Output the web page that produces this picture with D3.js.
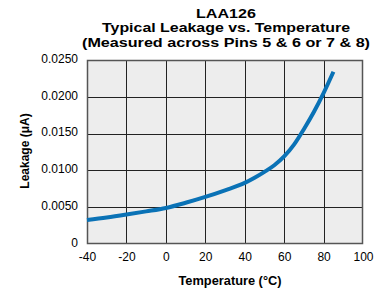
<!DOCTYPE html>
<html>
<head>
<meta charset="utf-8">
<script src="https://cdn.jsdelivr.net/npm/d3@7"></script>
<style>
  body { margin: 0; background: #fff; }
  svg text { font-family: "Liberation Sans", Arial, sans-serif; fill: #000; }
</style>
</head>
<body>
<svg id="chart" width="378" height="293"></svg>
<script>
// leakage curve
var temps = [-40, -30, -20, -10, 0, 10, 20, 30, 40, 45, 50, 55, 60, 65, 70, 75, 80, 85];
var leakage = [0.00326, 0.0036, 0.00400, 0.00443, 0.0049, 0.0056, 0.0064, 0.0073, 0.0083, 0.0090, 0.0098, 0.0107, 0.0119, 0.0135, 0.0156, 0.0179, 0.0205, 0.0234];
var xTicks = [-40, -20, 0, 20, 40, 60, 80, 100];
var yTicks = [0, 0.005, 0.010, 0.015, 0.020, 0.025];
var titleLines = ["LAA126", "Typical Leakage vs. Temperature", "(Measured across Pins 5 & 6 or 7 & 8)"];
var titleWidths = [60, 248, 288];

var svg = d3.select("#chart");
var margin = { left: 87, right: 15, top: 60, bottom: 49 };
var width = 378 - margin.left - margin.right,
    height = 293 - margin.top - margin.bottom;

var x = d3.scaleLinear().domain([-40, 100]).range([0, width]);
var y = d3.scaleLinear().domain([0, 0.025]).range([height, 0]);

// title, stretched to the reference widths
svg.append("g")
    .selectAll("text")
    .data(titleLines)
    .enter()
    .append("text")
    .attr("x", 226)
    .attr("y", function(d, i) { return 17.5 + i * 14.5; })
    .attr("text-anchor", "middle")
    .attr("textLength", function(d, i) { return titleWidths[i]; })
    .attr("lengthAdjust", "spacingAndGlyphs")
    .style("font-weight", "bold")
    .style("font-size", "13px")
    .text(function(d) { return d; });

var g = svg.append("g").attr("transform", "translate(" + margin.left + "," + margin.top + ")");

g.append("rect")
    .attr("width", width)
    .attr("height", height)
    .attr("fill", "#ededed");

// grid
g.append("g")
    .selectAll("line")
    .data(xTicks.slice(1, -1))
    .enter()
    .append("line")
    .attr("x1", function(d) { return Math.round(x(d)) + 0.5; })
    .attr("x2", function(d) { return Math.round(x(d)) + 0.5; })
    .attr("y1", 0)
    .attr("y2", height)
    .attr("stroke", "#222");

g.append("g")
    .selectAll("line")
    .data(yTicks.slice(1, -1))
    .enter()
    .append("line")
    .attr("y1", function(d) { return Math.round(y(d)) + 0.5; })
    .attr("y2", function(d) { return Math.round(y(d)) + 0.5; })
    .attr("x1", 0)
    .attr("x2", width)
    .attr("stroke", "#222");

g.append("rect")
    .attr("x", 0.5)
    .attr("y", 0.5)
    .attr("width", width - 1)
    .attr("height", height - 1)
    .attr("fill", "none")
    .attr("stroke", "#555")
    .attr("stroke-width", 1.5);

// axes labels
var yFmt = function(d) { return d === 0 ? "0" : d3.format(".4f")(d); };
var yAxis = d3.axisLeft(y).tickValues(yTicks).tickFormat(yFmt).tickSize(0).tickPadding(9);
var xAxis = d3.axisBottom(x).tickValues(xTicks).tickFormat(function(d) { return String(d); }).tickSize(0).tickPadding(8);

g.append("g").attr("class", "y axis").call(yAxis);
g.append("g").attr("class", "x axis").attr("transform", "translate(0," + height + ")").call(xAxis);
g.selectAll(".axis path").remove();
g.selectAll(".axis text")
    .style("font-size", "12px")
    .style("font-family", "'Liberation Sans', Arial, sans-serif")
    .attr("fill", "#000");
g.selectAll(".y.axis text").attr("y", -1.5);

// curve
var line = d3.line()
    .curve(d3.curveMonotoneX)
    .x(function(d, i) { return x(temps[i]); })
    .y(function(d) { return y(d); });

g.append("path")
    .attr("d", line(leakage))
    .attr("fill", "none")
    .attr("stroke", "#0a72b6")
    .attr("stroke-width", 4)
    .attr("stroke-linecap", "butt");

// axis titles
svg.append("text")
    .attr("x", 230)
    .attr("y", 285)
    .attr("text-anchor", "middle")
    .attr("textLength", 103)
    .attr("lengthAdjust", "spacingAndGlyphs")
    .style("font-weight", "bold")
    .style("font-size", "12px")
    .text("Temperature (°C)");

svg.append("text")
    .attr("transform", "translate(29,151) rotate(-90)")
    .attr("text-anchor", "middle")
    .style("font-weight", "bold")
    .style("font-size", "12px")
    .text("Leakage (μA)");
</script>
</body>
</html>
